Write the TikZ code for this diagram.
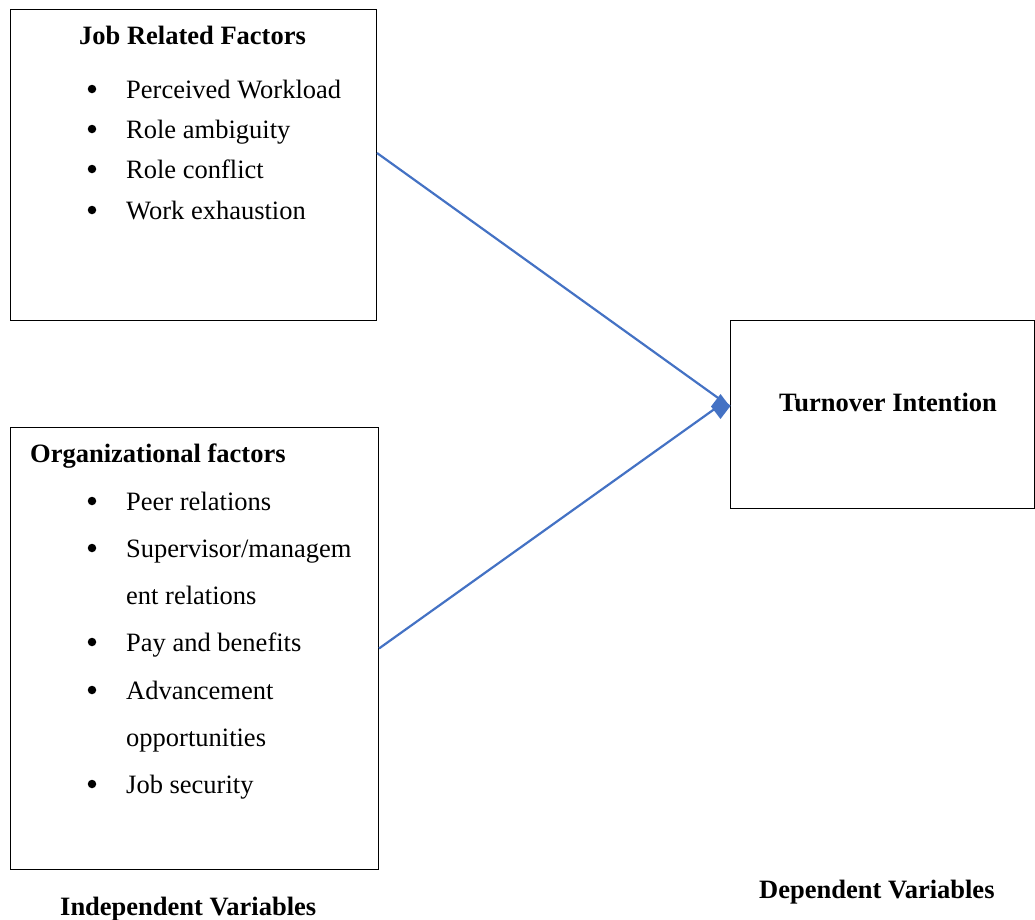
\documentclass[tikz,border=0pt]{standalone}
\usepackage{fontspec}
\setmainfont{Liberation Serif}
\usepackage{xcolor}
\usetikzlibrary{positioning, arrows.meta}
\definecolor{linkblue}{HTML}{4472C4}

\begin{document}
\begin{tikzpicture}[
	x=1pt, y=1pt,
	factorbox/.style={rectangle, draw=black, line width=1pt, anchor=north west, inner sep=0},
	heading/.style={font=\fontsize{26.5}{32}\selectfont\bfseries, anchor=base west, inner sep=0},
	itemtext/.style={font=\fontsize{26.5}{32}\selectfont, anchor=base west, inner sep=0},
	bulletdot/.style={circle, fill=black, minimum size=8.5pt, inner sep=0},
	link/.style={draw=linkblue, line width=2.2pt},
	]
		\useasboundingbox (0,0) rectangle (1035,-919);

		%Boxes
		\node[factorbox, minimum width=366, minimum height=311] (JobBox)  at (10,-9)   {};
		\node[factorbox, minimum width=368, minimum height=442] (OrgBox)  at (10,-427) {};
		\node[factorbox, minimum width=304, minimum height=188] (TurnBox) at (730,-320) {};

		%Job related factors
		\node[heading]  (JobHead)  at (79,-44)  {Job Related Factors};
		\node[bulletdot] (JobB1) at (92,-89)  {};
		\node[itemtext]  (JobI1) at (126,-98)  {Perceived Workload};
		\node[bulletdot] (JobB2) at (92,-129) {};
		\node[itemtext]  (JobI2) at (126,-138) {Role ambiguity};
		\node[bulletdot] (JobB3) at (92,-169) {};
		\node[itemtext]  (JobI3) at (126,-178) {Role conflict};
		\node[bulletdot] (JobB4) at (92,-210) {};
		\node[itemtext]  (JobI4) at (126,-219) {Work exhaustion};

		%Organizational factors
		\node[heading]  (OrgHead)  at (30,-462) {Organizational factors};
		\node[bulletdot] (OrgB1) at (92,-501) {};
		\node[itemtext]  (OrgI1) at (126,-510) {Peer relations};
		\node[bulletdot] (OrgB2) at (92,-548) {};
		\node[itemtext]  (OrgI2) at (126,-557) {Supervisor/managem};
		\node[itemtext]  (OrgI2b) at (126,-604) {ent relations};
		\node[bulletdot] (OrgB3) at (92,-642) {};
		\node[itemtext]  (OrgI3) at (126,-651) {Pay and benefits};
		\node[bulletdot] (OrgB4) at (92,-690) {};
		\node[itemtext]  (OrgI4) at (126,-699) {Advancement};
		\node[itemtext]  (OrgI4b) at (126,-746) {opportunities};
		\node[bulletdot] (OrgB5) at (92,-784) {};
		\node[itemtext]  (OrgI5) at (126,-793) {Job security};

		%Outcome and captions
		\node[heading]  (TurnText) at (779,-411) {Turnover Intention};
		\node[heading]  (DepVar)   at (759,-898) {Dependent Variables};
		\node[heading]  (IndepVar) at (60,-915)  {Independent Variables};

		%Lines
		\coordinate (Meet) at ([yshift=8pt]TurnBox.west);
		\draw[link] ([yshift=12pt]JobBox.east) -- (Meet);
		\draw[link, -{Diamond[length=19pt, width=25pt]}] (OrgBox.east) -- ([xshift=-12pt]Meet) -- (Meet);
	\end{tikzpicture}
\end{document}
